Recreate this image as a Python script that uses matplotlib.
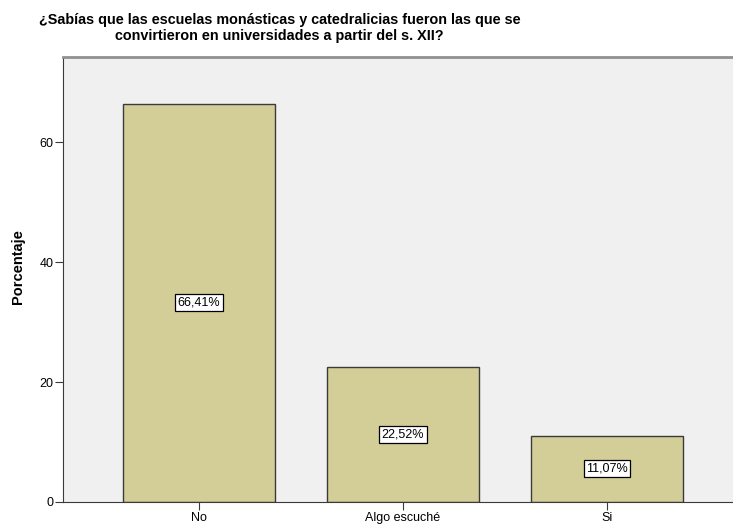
import matplotlib.pyplot as plt
import numpy as np

# 데이터
categorias = ['No', 'Algo escuché', 'Si']
porcentajes = [66.41, 22.52, 11.07]
etiquetas = ['66,41%', '22,52%', '11,07%']

plt.rcParams['font.family'] = ['Liberation Sans', 'DejaVu Sans']

fig = plt.figure(figsize=(7.33, 5.27), dpi=100)
ax = fig.add_axes([63 / 733, 1 - 502 / 527, 670 / 733, 445 / 527])
ax.set_facecolor('#F0F0F0')

x = np.arange(len(categorias))
ax.bar(x, porcentajes, width=0.745, color='#D3CE97', edgecolor='#3a3a3a', linewidth=1.0, zorder=2)

for xi, v, t in zip(x, porcentajes, etiquetas):
    ax.text(xi, v / 2, t, ha='center', va='center', fontsize=9, zorder=3,
            bbox=dict(facecolor='white', edgecolor='black', boxstyle='square,pad=0.2', linewidth=0.9))

ax.set_xlim(-0.667, 2.618)
ax.set_ylim(0, 74.2)
ax.set_yticks([0, 20, 40, 60])
ax.set_xticks(x)
ax.set_xticklabels(categorias)
ax.tick_params(axis='both', labelsize=9, length=5.5, direction='out', color='#3a3a3a', pad=1.5)

ax.spines['right'].set_visible(False)
ax.spines['top'].set_color('#909090')
ax.spines['top'].set_linewidth(2)
ax.spines['left'].set_color('#3a3a3a')
ax.spines['bottom'].set_color('#3a3a3a')

ax.set_ylabel('Porcentaje', fontsize=10.5, fontweight='bold')
ax.yaxis.set_label_coords((25 - 63) / 670, (502 - 267) / 445)
fig.text((37 + 522) / 2 / 733, 1 - 13 / 527,
         '¿Sabías que las escuelas monásticas y catedralicias fueron las que se\nconvirtieron en universidades a partir del s. XII?',
         ha='center', va='top', multialignment='center', fontsize=10.4, fontweight='bold', linespacing=1.2)

fig.savefig('out.png', dpi=100)
